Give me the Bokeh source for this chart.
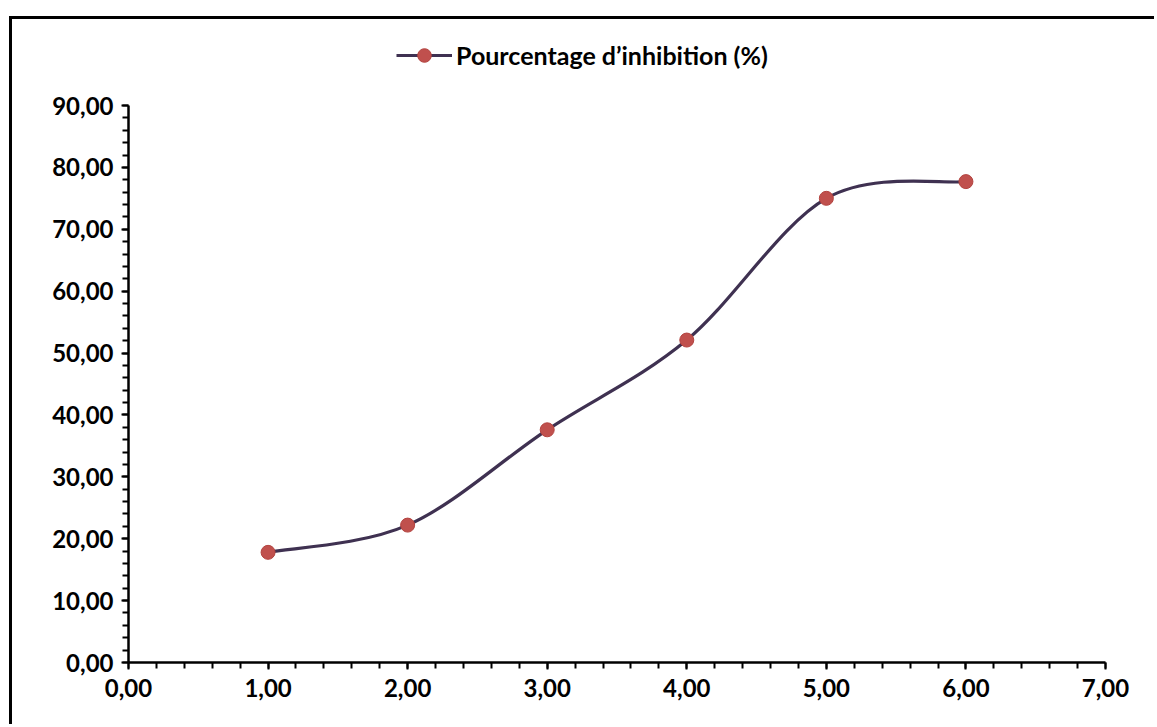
from bokeh.plotting import figure
from bokeh.models import FixedTicker, Legend, LegendItem, ColumnDataSource, Range1d
from bokeh.embed import file_html
from bokeh.resources import INLINE

# Data
x_vals = [1.0, 2.0, 3.0, 4.0, 5.0, 6.0]
y_vals = [17.8, 22.2, 37.6, 52.1, 75.0, 77.7]
series_name = "Pourcentage d\u2019inhibition (%)"
x_ticks = [0, 1, 2, 3, 4, 5, 6, 7]
y_ticks = [0, 10, 20, 30, 40, 50, 60, 70, 80, 90]

FONT = "Lato"

# Smooth (Catmull-Rom style) Bezier segments through the data points
n = len(x_vals)
seg = dict(x0=[], y0=[], x1=[], y1=[], cx0=[], cy0=[], cx1=[], cy1=[])
for i in range(n - 1):
    p0 = (x_vals[max(i - 1, 0)], y_vals[max(i - 1, 0)])
    p1 = (x_vals[i], y_vals[i])
    p2 = (x_vals[i + 1], y_vals[i + 1])
    p3 = (x_vals[min(i + 2, n - 1)], y_vals[min(i + 2, n - 1)])
    seg["x0"].append(p1[0]); seg["y0"].append(p1[1])
    seg["x1"].append(p2[0]); seg["y1"].append(p2[1])
    seg["cx0"].append(p1[0] + (p2[0] - p0[0]) / 6)
    seg["cy0"].append(p1[1] + (p2[1] - p0[1]) / 6)
    seg["cx1"].append(p2[0] - (p3[0] - p1[0]) / 6)
    seg["cy1"].append(p2[1] - (p3[1] - p1[1]) / 6)

# frame extends above the 90 tick so the legend can sit inside it;
# the axis itself is bounded to 0..90
y_top = 90 * (662 - 30) / (662 - 105)

W, H = 1145, 708
p = figure(width=W, height=H, x_range=Range1d(0, 7), y_range=Range1d(0, y_top),
           output_backend="svg", toolbar_location=None,
           min_border_left=116, min_border_right=52,
           min_border_top=11, min_border_bottom=65)
p.margin = (16, 0, 0, 9)
p.styles = {"border-left": "3px solid black", "border-top": "3px solid black"}
p.outline_line_color = None
p.xgrid.visible = False
p.ygrid.visible = False
p.background_fill_color = "white"
p.border_fill_color = "white"

line_color = "#3f3151"
bz = p.bezier(x0="x0", y0="y0", x1="x1", y1="y1", cx0="cx0", cy0="cy0",
              cx1="cx1", cy1="cy1", source=ColumnDataSource(seg),
              line_color=line_color, line_width=3.2)
src = ColumnDataSource(dict(x=x_vals, y=y_vals))
sc = p.scatter(x="x", y="y", source=src, size=14, fill_color="#c0504d",
               line_color="#b3433f", line_width=1)

for ax, ticks, minor in ((p.xaxis[0], x_ticks, [i / 5 for i in range(0, 36)]),
                         (p.yaxis[0], y_ticks, list(range(0, 91, 2)))):
    ax.ticker = FixedTicker(ticks=ticks, minor_ticks=minor)
    ax.major_label_overrides = {t: f"{t:.2f}".replace(".", ",") for t in ticks}
    ax.axis_line_width = 2.5
    ax.axis_line_color = "black"
    ax.major_tick_line_width = 2
    ax.minor_tick_line_width = 2
    ax.major_tick_out = 7
    ax.major_tick_in = 0
    ax.minor_tick_out = 6
    ax.minor_tick_in = 0
    ax.major_label_text_font = FONT
    ax.major_label_text_font_style = "bold"
    ax.major_label_text_font_size = "24px"
    ax.major_label_text_color = "black"
p.yaxis[0].bounds = (0, 90)
p.yaxis[0].major_label_standoff = 8
p.xaxis[0].major_label_standoff = 9

legend = Legend(items=[LegendItem(label=series_name, renderers=[bz, sc])],
                location=(268, 590), orientation="horizontal",
                label_text_font=FONT, label_text_font_style="bold",
                label_text_font_size="25px", label_text_color="black",
                glyph_width=56, glyph_height=34, border_line_color=None,
                background_fill_alpha=0, label_standoff=4, padding=2, margin=0)
p.add_layout(legend)

open("out.html", "w").write(file_html(p, INLINE))
